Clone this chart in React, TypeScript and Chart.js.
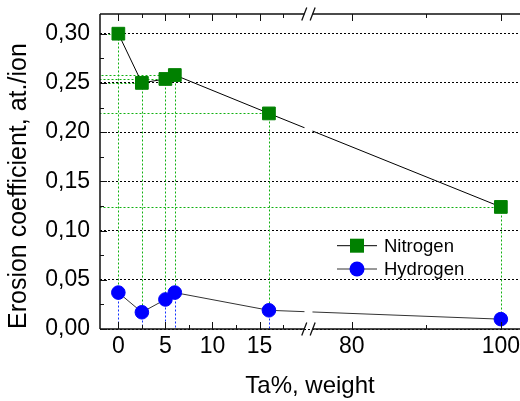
import React, { useEffect, useRef } from 'react';
import { Chart, registerables } from 'chart.js';

Chart.register(...registerables);

// ---- data ----
const taPercent = [0, 2.5, 5, 6, 16, 100];
const nitrogen = [0.3, 0.25, 0.254, 0.258, 0.219, 0.124];
const hydrogen = [0.037, 0.017, 0.03, 0.037, 0.019, 0.01];
const seriesNames = ['Nitrogen', 'Hydrogen'];
const xMajorTicks = [0, 5, 10, 15, 80, 100];
const xMinorTicks = [2.5, 7.5, 12.5, 17.5, 90];
const yMajorTicks = [0, 0.05, 0.1, 0.15, 0.2, 0.25, 0.3];
const yMinorTicks = [0.025, 0.075, 0.125, 0.175, 0.225, 0.275];
const xTitle = 'Ta%, weight';
const yTitle = 'Erosion coefficient, at./ion';

// ---- broken x axis: 0..20 | 74.4..100 ----
const BREAK_LOW = 20;
const BREAK_HIGH = 74.4;
const BREAK_POS = 20.37;
const HIGH_SCALE = 0.792;
const toAxis = (x: number) => (x <= BREAK_LOW ? x : BREAK_POS + (x - BREAK_HIGH) * HIGH_SCALE);
const BREAK_MARK = 20.2;
const X_MIN = -1.95;
const X_MAX = 42.68;

const FONT = '"Liberation Sans", Arial, Helvetica, sans-serif';
const GREEN = '#008000';
const BLUE = '#0000ff';
const DROP_GREEN = '#10b010';
const DROP_BLUE = '#1030ff';

const decorations = {
  id: 'decorations',
  beforeDatasetsDraw(chart: any) {
    const { ctx, chartArea: a, scales } = chart;
    const x = scales.x;
    const y = scales.y;
    ctx.save();
    ctx.lineWidth = 1;
    ctx.setLineDash([2, 2]);
    taPercent.forEach((t, i) => {
      const px = Math.round(x.getPixelForValue(toAxis(t))) + 0.5;
      const pn = Math.round(y.getPixelForValue(nitrogen[i])) + 0.5;
      const ph = Math.round(y.getPixelForValue(hydrogen[i])) + 0.5;
      ctx.strokeStyle = DROP_GREEN;
      ctx.beginPath();
      ctx.moveTo(px, pn);
      ctx.lineTo(px, ph);
      ctx.moveTo(px, pn);
      ctx.lineTo(a.left, pn);
      ctx.stroke();
      ctx.strokeStyle = DROP_BLUE;
      ctx.beginPath();
      ctx.moveTo(px, ph);
      ctx.lineTo(px, a.bottom);
      ctx.stroke();
    });
    ctx.restore();
  },
  afterDatasetsDraw(chart: any) {
    const { ctx, chartArea: a, scales } = chart;
    const x = scales.x;
    const y = scales.y;
    const bx = x.getPixelForValue(BREAK_MARK);
    ctx.save();
    // gaps in data lines at the break
    ctx.strokeStyle = '#ffffff';
    ctx.lineWidth = 2.5;
    chart.data.datasets.forEach((_: any, di: number) => {
      const pts = chart.getDatasetMeta(di).data;
      for (let i = 0; i < pts.length - 1; i++) {
        const p0 = pts[i];
        const p1 = pts[i + 1];
        if (p0.x < bx && p1.x > bx) {
          const yAt = (px: number) => p0.y + ((p1.y - p0.y) * (px - p0.x)) / (p1.x - p0.x);
          ctx.beginPath();
          ctx.moveTo(bx - 4, yAt(bx - 4));
          ctx.lineTo(bx + 4, yAt(bx + 4));
          ctx.stroke();
        }
      }
    });
    // axis lines
    ctx.strokeStyle = '#111';
    ctx.lineWidth = 1.5;
    ctx.beginPath();
    ctx.moveTo(a.left, a.top);
    ctx.lineTo(a.left, a.bottom);
    ctx.moveTo(a.left, a.bottom);
    ctx.lineTo(bx - 4, a.bottom);
    ctx.moveTo(bx + 4, a.bottom);
    ctx.lineTo(a.right, a.bottom);
    ctx.moveTo(a.left, a.top);
    ctx.lineTo(bx - 4, a.top);
    ctx.moveTo(bx + 4, a.top);
    ctx.lineTo(a.right, a.top);
    ctx.stroke();
    // ticks
    ctx.lineWidth = 1;
    ctx.beginPath();
    const xTick = (v: number, len: number) => {
      const px = Math.round(x.getPixelForValue(toAxis(v))) + 0.5;
      ctx.moveTo(px, a.bottom);
      ctx.lineTo(px, a.bottom - len);
      ctx.moveTo(px, a.top);
      ctx.lineTo(px, a.top + len);
    };
    xMajorTicks.forEach((v) => xTick(v, 7));
    xMinorTicks.forEach((v) => xTick(v, 4));
    const yTick = (v: number, len: number) => {
      const py = Math.round(y.getPixelForValue(v)) + 0.5;
      ctx.moveTo(a.left, py);
      ctx.lineTo(a.left + len, py);
    };
    yMajorTicks.forEach((v) => yTick(v, 7));
    yMinorTicks.forEach((v) => yTick(v, 4));
    ctx.stroke();
    // break marks
    ctx.lineWidth = 1.3;
    ctx.beginPath();
    [a.top, a.bottom].forEach((yy: number) => {
      ctx.moveTo(bx - 6.7, yy + 6.5);
      ctx.lineTo(bx - 1.7, yy - 6.5);
      ctx.moveTo(bx + 1.7, yy + 6.5);
      ctx.lineTo(bx + 6.7, yy - 6.5);
    });
    ctx.stroke();
    // legend
    const lx = a.left + 237;
    const rows = [
      { y: 245.7, color: GREEN, line: '#000', style: 'rect' },
      { y: 269, color: BLUE, line: '#333', style: 'circle' },
    ];
    rows.forEach((r, i) => {
      ctx.strokeStyle = r.line;
      ctx.lineWidth = 1;
      ctx.beginPath();
      ctx.moveTo(lx, r.y);
      ctx.lineTo(lx + 40, r.y);
      ctx.stroke();
      ctx.fillStyle = r.color;
      if (r.style === 'rect') {
        ctx.fillRect(lx + 20 - 7, r.y - 7, 14, 14);
      } else {
        ctx.beginPath();
        ctx.arc(lx + 20, r.y, 7.5, 0, Math.PI * 2);
        ctx.fill();
      }
      ctx.fillStyle = '#000';
      ctx.font = `18.5px ${FONT}`;
      ctx.textAlign = 'left';
      ctx.textBaseline = 'middle';
      ctx.fillText(seriesNames[i], lx + 47, r.y + 1);
    });
    ctx.restore();
  },
};

export default function App() {
  const ref = useRef<HTMLCanvasElement | null>(null);
  useEffect(() => {
    if (!ref.current) return;
    const chart = new Chart(ref.current, {
      type: 'scatter',
      data: {
        datasets: [
          {
            label: seriesNames[0],
            data: taPercent.map((t, i) => ({ x: toAxis(t), y: nitrogen[i] })),
            showLine: true,
            borderColor: '#000',
            borderWidth: 1,
            backgroundColor: GREEN,
            pointBackgroundColor: GREEN,
            pointBorderColor: GREEN,
            pointBorderWidth: 1,
            pointStyle: 'rect',
            pointRadius: 9,
            pointHoverRadius: 9,
          },
          {
            label: seriesNames[1],
            data: taPercent.map((t, i) => ({ x: toAxis(t), y: hydrogen[i] })),
            showLine: true,
            borderColor: '#333',
            borderWidth: 1,
            backgroundColor: BLUE,
            pointBackgroundColor: BLUE,
            pointBorderColor: BLUE,
            pointBorderWidth: 1,
            pointStyle: 'circle',
            pointRadius: 6.8,
            pointHoverRadius: 6.8,
          },
        ],
      },
      options: {
        responsive: false,
        animation: false,
        events: [],
        layout: { padding: { top: 14, left: 0, right: 20, bottom: 0 } },
        plugins: {
          legend: { display: false },
          tooltip: { enabled: false },
        },
        scales: {
          x: {
            type: 'linear',
            min: X_MIN,
            max: X_MAX,
            grid: { display: false, drawTicks: true, tickLength: 4 },
            border: { display: false },
            afterBuildTicks: (s: any) => {
              s.ticks = xMajorTicks.map((v) => ({ value: toAxis(v) }));
            },
            afterFit: (s: any) => {
              s.height = 72;
              s.paddingLeft = 0;
              s.paddingRight = 0;
            },
            ticks: {
              autoSkip: false,
              maxRotation: 0,
              padding: 0,
              color: '#000',
              font: { family: FONT, size: 23 },
              callback: (_v: any, i: number) => String(xMajorTicks[i]),
            },
            title: {
              display: true,
              text: xTitle,
              color: '#000',
              font: { family: FONT, size: 24 },
              padding: { top: 0, bottom: 0 },
            },
          },
          y: {
            type: 'linear',
            min: 0,
            max: 0.32,
            grid: { display: true, drawTicks: false, color: '#000', lineWidth: 1 },
            border: { display: false, dash: [2, 2] },
            afterBuildTicks: (s: any) => {
              s.ticks = yMajorTicks.map((v) => ({ value: v }));
            },
            afterFit: (s: any) => {
              s.width = 100;
              s.paddingTop = 0;
              s.paddingBottom = 0;
            },
            ticks: {
              autoSkip: false,
              padding: 10,
              color: '#000',
              font: { family: FONT, size: 23 },
              callback: (v: any) => Number(v).toFixed(2).replace('.', ','),
            },
            title: {
              display: true,
              text: yTitle,
              align: 'start',
              color: '#000',
              font: { family: FONT, size: 25 },
              padding: { top: 4, bottom: 0 },
            },
          },
        },
      },
      plugins: [decorations],
    } as any);
    return () => chart.destroy();
  }, []);
  return (
    <div style={{ position: 'absolute', left: 0, top: 0, width: 520, height: 401, overflow: 'hidden', background: '#fff' }}>
      <canvas ref={ref} width={540} height={401} style={{ display: 'block' }} />
    </div>
  );
}
